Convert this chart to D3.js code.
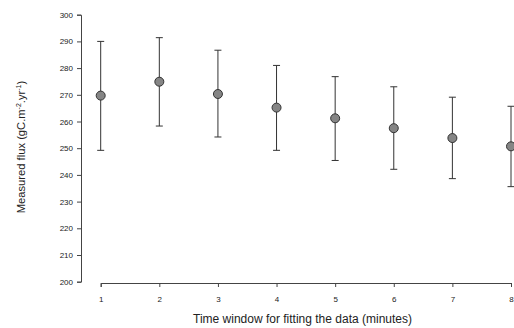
<!DOCTYPE html>
<html>
<head>
<meta charset="utf-8">
<script src="https://cdn.jsdelivr.net/npm/d3@7"></script>
<style>
  body { margin: 0; background: #fff; }
  text { font-family: "Liberation Sans", Arial, sans-serif; fill: #222; }
</style>
</head>
<body>
<div id="chart"></div>
<script>
// time window (minutes)
const windows = [1, 2, 3, 4, 5, 6, 7, 8];
// measured flux mean and error bar bounds
const flux  = [269.7, 274.9, 270.3, 265.2, 261.2, 257.5, 253.8, 250.7];
const upper = [290.0, 291.4, 286.7, 281.0, 276.8, 273.0, 269.1, 265.7];
const lower = [249.2, 258.3, 254.2, 249.2, 245.4, 242.1, 238.6, 235.6];
const yTicks = d3.range(200, 301, 10);

const width = 514, height = 328;

let svg = d3.select('#chart')
            .append('svg')
            .attr('width', width)
            .attr('height', height);

let xScale = d3.scaleLinear().domain([1, 8]).range([100.7, 511]);
let yScale = d3.scaleLinear().domain([200, 300]).range([281.7, 14.7]);

// y axis
let yAxis = svg.append('g')
               .attr('transform', 'translate(81,0)')
               .call(d3.axisLeft(yScale).tickValues(yTicks).tickFormat(d3.format('d')).tickSize(4).tickPadding(4));
yAxis.select('.domain').attr('stroke', '#444');
yAxis.selectAll('.tick line').attr('stroke', '#444');
yAxis.selectAll('.tick text').style('font-size', '8px').attr('fill', '#222');

// x axis (detached from y axis)
let xAxis = svg.append('g')
               .attr('transform', 'translate(0,283)')
               .call(d3.axisBottom(xScale).tickValues(windows).tickFormat(d3.format('d')).tickSize(4).tickPadding(9));
xAxis.select('.domain').attr('stroke', '#444');
xAxis.selectAll('.tick line').attr('stroke', '#444');
xAxis.selectAll('.tick text').style('font-size', '8px').attr('fill', '#222');

// error bars
let bars = svg.append('g').selectAll('.err')
              .data(windows)
              .enter()
              .append('g')
              .attr('class', 'err');

bars.append('line')
    .attr('x1', d => xScale(d)).attr('x2', d => xScale(d))
    .attr('y1', (d, i) => yScale(upper[i]))
    .attr('y2', (d, i) => yScale(lower[i]))
    .attr('stroke', '#333').attr('stroke-width', 1);

bars.append('line')
    .attr('x1', d => xScale(d) - 3.5).attr('x2', d => xScale(d) + 3.5)
    .attr('y1', (d, i) => yScale(upper[i]))
    .attr('y2', (d, i) => yScale(upper[i]))
    .attr('stroke', '#333').attr('stroke-width', 1);

bars.append('line')
    .attr('x1', d => xScale(d) - 3.5).attr('x2', d => xScale(d) + 3.5)
    .attr('y1', (d, i) => yScale(lower[i]))
    .attr('y2', (d, i) => yScale(lower[i]))
    .attr('stroke', '#333').attr('stroke-width', 1);

// points
svg.append('g').selectAll('circle')
   .data(windows)
   .enter()
   .append('circle')
   .attr('cx', d => xScale(d))
   .attr('cy', (d, i) => yScale(flux[i]))
   .attr('r', 4.5)
   .attr('fill', '#858585')
   .attr('stroke', '#333')
   .attr('stroke-width', 1);

// axis titles
svg.append('text')
   .attr('x', 302.5)
   .attr('y', 323)
   .attr('text-anchor', 'middle')
   .style('font-size', '12px')
   .text('Time window for fitting the data (minutes)');

let yTitle = svg.append('text')
   .attr('transform', 'translate(25,147) rotate(-90)')
   .attr('text-anchor', 'middle')
   .style('font-size', '11.2px');
yTitle.append('tspan').text('Measured flux (gC.m');
yTitle.append('tspan').attr('dy', -4).style('font-size', '7px').text('-2');
yTitle.append('tspan').attr('dy', 4).text('.yr');
yTitle.append('tspan').attr('dy', -4).style('font-size', '7px').text('-1');
yTitle.append('tspan').attr('dy', 4).text(')');
</script>
</body>
</html>
